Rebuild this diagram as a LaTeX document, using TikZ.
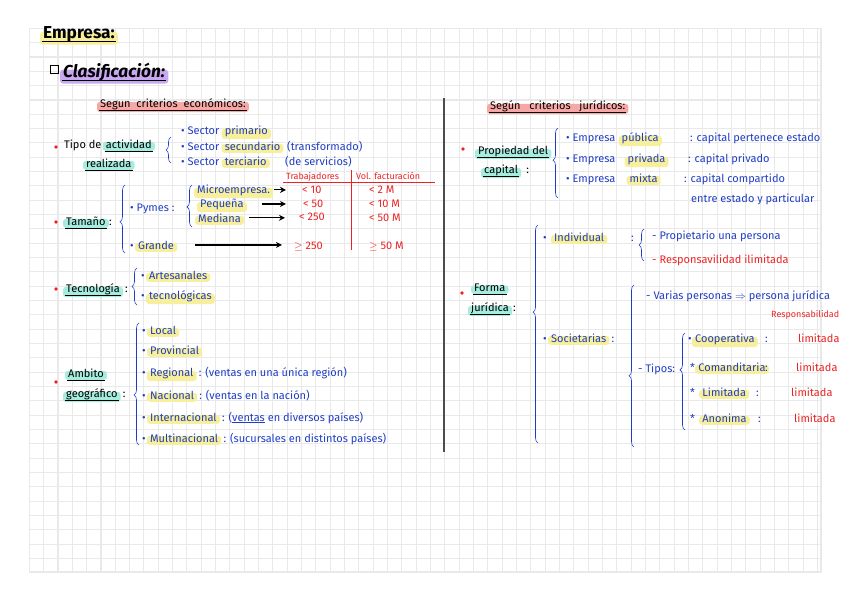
\documentclass[tikz,border=0pt]{standalone}
\usepackage{fontspec}
\setmainfont{Fira Sans}
\usetikzlibrary{positioning,arrows.meta,decorations.pathreplacing}

\definecolor{inkblue}{HTML}{1F3DC4}
\definecolor{inkred}{HTML}{EC2222}
\definecolor{hlyellow}{HTML}{F7EF9B}
\definecolor{hlcyan}{HTML}{A6ECDF}
\definecolor{hlpink}{HTML}{F6A8A6}
\definecolor{hlpurple}{HTML}{C9A8F2}
\definecolor{gridgray}{HTML}{E9E9E9}

\pgfdeclarelayer{paper}
\pgfdeclarelayer{marks}
\pgfsetlayers{paper,marks,main}

\newcommand{\hand}{\fontsize{11}{13}\selectfont}
% highlighter stroke behind a node
\newcommand{\marker}[2]{%
  \begin{pgfonlayer}{marks}
    \fill[#1, rounded corners=3pt] ([xshift=-2pt,yshift=-1.5pt]#2.south west) rectangle ([xshift=2pt,yshift=2pt]#2.east);
  \end{pgfonlayer}}
% pen underline below a node
\newcommand{\undermark}[1]{%
  \draw[black, line width=0.9pt] ([yshift=-3pt]#1.base west) -- ([yshift=-3pt]#1.base east);}

\begin{document}
\begin{tikzpicture}[x=1pt, y=-1pt,
  every node/.style={inner sep=1pt, anchor=base west, font=\hand},
  bt/.style={text=inkblue},
  rt/.style={text=inkred},
  head/.style={font=\bfseries\LARGE},
  dot/.style={circle, fill=inkred, inner sep=0pt, minimum size=3.6pt, anchor=center},
  brc/.style={inkblue, semithick, decorate, decoration={brace, amplitude=5pt, aspect=#1}},
  brc/.default=0.5,
  arr/.style={-{Stealth[length=6pt, width=6pt]}, line width=1.2pt},
  rule/.style={inkred, line width=0.9pt},
  gridline/.style={gridgray, line width=1.1pt}
]
  \useasboundingbox (0,0) rectangle (848,600);

  % === squared paper ===
  \begin{pgfonlayer}{paper}
    \foreach \i in {0,...,55}
      \draw[gridline] (29.3+14.33*\i, 28.3) -- (29.3+14.33*\i, 572);
    \foreach \j in {0,...,37}
      \draw[gridline] (29.3, 28.3+14.33*\j) -- (821, 28.3+14.33*\j);
    \draw[gridline] (29.3,572) -- (821,572) -- (821,28.3);
  \end{pgfonlayer}

  % === headings ===
  \node[head] (empresa) at (42,38) {Empresa:};
  \marker{hlyellow}{empresa}
  \undermark{empresa}

  \node[draw, thick, inner sep=0pt, minimum size=8pt, anchor=center] (box) at (54,69) {};
  \node[head, font=\bfseries\itshape\LARGE] (clasif) at (62,77) {Clasificación:};
  \marker{hlpurple}{clasif}
  \undermark{clasif}

  \node (sececo) at (99,107) {Segun\ \ criterios\ \ económicos:};
  \marker{hlpink}{sececo}
  \undermark{sececo}

  % === LEFT: criterios economicos ===
  % Tipo de actividad
  \node[dot] (d1) at (56,147) {};
  \node (tipo) at (63,148) {Tipo de};
  \node[base right=2pt of tipo] (activ) {actividad};
  \node (realiz) at (85,167) {realizada};
  \marker{hlcyan}{activ}
  \marker{hlcyan}{realiz}
  \undermark{activ}
  \undermark{realiz}
  \draw[brc] (171,163) -- (171,137);

  \node[bt] (s1) at (180,134) {\textbullet\ Sector};
  \node[bt, base right=3pt of s1] (prim) {primario};
  \node[bt] (s2) at (180,150) {\textbullet\ Sector};
  \node[bt, base right=3pt of s2] (secu) {secundario};
  \node[bt] (transf) at (286,150) {(transformado)};
  \node[bt] (s3) at (180,165) {\textbullet\ Sector};
  \node[bt, base right=3pt of s3] (terc) {terciario};
  \node[bt] (serv) at (284,165) {(de servicios)};
  \marker{hlyellow}{prim}
  \marker{hlyellow}{secu}
  \marker{hlyellow}{terc}

  % Tamano
  \node[rt, font=\small] (trab) at (285,179) {Trabajadores};
  \node[rt, font=\small] (vol) at (355,179) {Vol. facturación};
  \draw[rule] (283,182) -- (435,182);
  \draw[rule] (351,170) -- (351,250);

  \node[dot] (d2) at (56,222) {};
  \node (tam) at (65,225) {Tamaño};
  \node[base right=1pt of tam] (tamc) {:};
  \marker{hlcyan}{tam}
  \undermark{tam}
  \draw[brc=0.46] (125,253) -- (125,185);

  \node[bt] (pymes) at (129,211) {\textbullet\ Pymes :};
  \draw[brc=0.48] (192,227) -- (192,185);
  \node[bt] (micro) at (196,193) {Microempresa.};
  \node[bt] (peq) at (199,207) {Pequeña};
  \node[bt] (med) at (197,222) {Mediana};
  \node[bt] (gb) at (129,249) {\textbullet};
  \node[bt, base right=2pt of gb] (grande) {Grande};
  \marker{hlyellow}{micro}
  \marker{hlyellow}{peq}
  \marker{hlyellow}{med}
  \marker{hlyellow}{grande}

  \node[rt] (w1) at (301,193) {< 10};
  \node[rt] (w2) at (302,207) {< 50};
  \node[rt] (w3) at (298,220) {< 250};
  \node[rt] (w4) at (293,249) {$\geq$ 250};
  \node[rt] (f1) at (368,193) {< 2 M};
  \node[rt] (f2) at (368,207) {< 10 M};
  \node[rt] (f3) at (368,221) {< 50 M};
  \node[rt] (f4) at (368,249) {$\geq$ 50 M};

  \draw[arr] ([xshift=3pt]micro.east) -- ([xshift=-15pt]micro.east -| w1.west);
  \draw[arr] ([xshift=17pt]peq.east) -- ([xshift=-16pt]peq.east -| w2.west);
  \draw[arr] ([xshift=7pt]med.east) -- ([xshift=-13pt]med.east -| w3.west);
  \draw[arr] ([xshift=20pt]grande.east) -- ([xshift=-11pt]grande.east -| w4.west);

  % Tecnologia
  \node[dot] (d3) at (56,289) {};
  \node (tec) at (65,292) {Tecnología};
  \node[base right=3pt of tec] (tecc) {:};
  \marker{hlcyan}{tec}
  \undermark{tec}
  \draw[brc] (137,305) -- (137,268);
  \node[bt] (b31) at (140,279) {\textbullet};
  \node[bt, base right=2pt of b31] (artes) {Artesanales};
  \node[bt] (b32) at (140,299) {\textbullet};
  \node[bt, base right=2pt of b32] (tecno) {tecnológicas};
  \marker{hlyellow}{artes}
  \marker{hlyellow}{tecno}

  % Ambito geografico
  \node[dot] (d4) at (56,382) {};
  \node (amb1) at (67,377) {Ambito};
  \node (amb2) at (65,397) {geográfico};
  \node[base right=3pt of amb2] (ambc) {:};
  \marker{hlcyan}{amb1}
  \marker{hlcyan}{amb2}
  \undermark{amb1}
  \undermark{amb2}
  \draw[brc=0.41] (139,445) -- (139,323);

  \node[bt] (b41) at (141,334) {\textbullet};
  \node[bt, base right=2pt of b41] (local) {Local};
  \node[bt] (b42) at (141,354) {\textbullet};
  \node[bt, base right=2pt of b42] (prov) {Provincial};
  \node[bt] (b43) at (141,376) {\textbullet};
  \node[bt, base right=2pt of b43] (regio) {Regional};
  \node[bt, base right=3pt of regio] (regiot) {: (ventas en una única región)};
  \node[bt] (b44) at (141,399) {\textbullet};
  \node[bt, base right=2pt of b44] (nacio) {Nacional};
  \node[bt, base right=3pt of nacio] (naciot) {: (ventas en la nación)};
  \node[bt] (b45) at (141,421) {\textbullet};
  \node[bt, base right=2pt of b45] (inter) {Internacional};
  \node[bt, base right=3pt of inter] (intert) {: (\underline{ventas} en diversos países)};
  \node[bt] (b46) at (141,442) {\textbullet};
  \node[bt, base right=2pt of b46] (multi) {Multinacional};
  \node[bt, base right=3pt of multi] (multit) {: (sucursales en distintos países)};
  \foreach \n in {local,prov,regio,nacio,inter,multi}{
    \marker{hlyellow}{\n}
  }

  % === divider ===
  \draw[gray!60!black, line width=1.3pt] (444,98) -- (444,452);

  % === RIGHT: criterios juridicos ===
  \node (secjur) at (489,109) {Según\ \ \ criterios\ \ \ jurídicos:};
  \marker{hlpink}{secjur}
  \undermark{secjur}

  % Propiedad del capital
  \node[dot] (d5) at (463,149) {};
  \node (prop) at (477,154) {Propiedad del};
  \node (capit) at (483,173) {capital};
  \node[base right=6pt of capit] (capc) {:};
  \marker{hlcyan}{prop}
  \marker{hlcyan}{capit}
  \undermark{prop}
  \undermark{capit}
  \draw[brc=0.54] (558,198) -- (558,128);

  \node[bt] (e1) at (565,141) {\textbullet\ Empresa};
  \node[bt, base right=4pt of e1] (publ) {pública};
  \node[bt] (e1t) at (689,141) {: capital pertenece estado};
  \node[bt] (e2) at (565,162) {\textbullet\ Empresa};
  \node[bt, base right=10pt of e2] (priv) {privada};
  \node[bt] (e2t) at (687,162) {: capital privado};
  \node[bt] (e3) at (565,182) {\textbullet\ Empresa};
  \node[bt, base right=12pt of e3] (mixt) {mixta};
  \node[bt] (e3t) at (683,182) {: capital compartido};
  \node[bt] (e3u) at (690,202) {entre estado y particular};
  \marker{hlyellow}{publ}
  \marker{hlyellow}{priv}
  \marker{hlyellow}{mixt}

  % Forma juridica
  \node[dot] (d6) at (462,293) {};
  \node (forma) at (473,291) {Forma};
  \node (jurid) at (470,311) {jurídica};
  \node[base right=2pt of jurid] (juric) {:};
  \marker{hlcyan}{forma}
  \marker{hlcyan}{jurid}
  \undermark{forma}
  \undermark{jurid}
  \draw[brc=0.6] (538,443) -- (538,225);

  \node[bt] (b61) at (542,241) {\textbullet};
  \node[bt, base right=5pt of b61] (indiv) {Individual};
  \node[bt] (indc) at (630,241) {:};
  \marker{hlyellow}{indiv}
  \draw[brc] (644,261) -- (644,229);
  \node[bt] (ind1) at (651,239) {- Propietario una persona};
  \node[rt] (ind2) at (651,263) {- Responsavilidad ilimitada};

  \node[bt] (b62) at (542,342) {\textbullet};
  \node[bt, base right=2pt of b62] (socie) {Societarias};
  \node[bt, base right=3pt of socie] (socc) {:};
  \marker{hlyellow}{socie}
  \draw[brc=0.44] (634,447) -- (634,285);

  \node[bt] (vari) at (645,299) {- Varias personas $\Rightarrow$ persona jurídica};
  \node[rt, font=\small] (resp) at (770,317) {Responsabilidad};
  \node[bt] (tipos) at (637,372) {- Tipos:};
  \draw[brc=0.62] (685,430) -- (685,333);

  \node[bt] (t1) at (687,342) {\textbullet};
  \node[bt, base right=1pt of t1] (coop) {Cooperativa};
  \node[bt] (t1c) at (764,342) {:};
  \node[rt] (l1) at (797,342) {limitada};
  \node[bt] (t2) at (689,371) {*};
  \node[bt, base right=1pt of t2] (coman) {Comanditaria};
  \node[bt] (t2c) at (764,371) {:};
  \node[rt] (l2) at (795,371) {limitada};
  \node[bt] (t3) at (689,396) {*};
  \node[bt, base right=5pt of t3] (limi) {Limitada};
  \node[bt] (t3c) at (755,396) {:};
  \node[rt] (l3) at (790,396) {limitada};
  \node[bt] (t4) at (689,422) {*};
  \node[bt, base right=5pt of t4] (anon) {Anonima};
  \node[bt] (t4c) at (757,422) {:};
  \node[rt] (l4) at (793,422) {limitada};
  \foreach \n in {coop,coman,limi,anon}{
    \marker{hlyellow}{\n}
  }
\end{tikzpicture}
\end{document}
